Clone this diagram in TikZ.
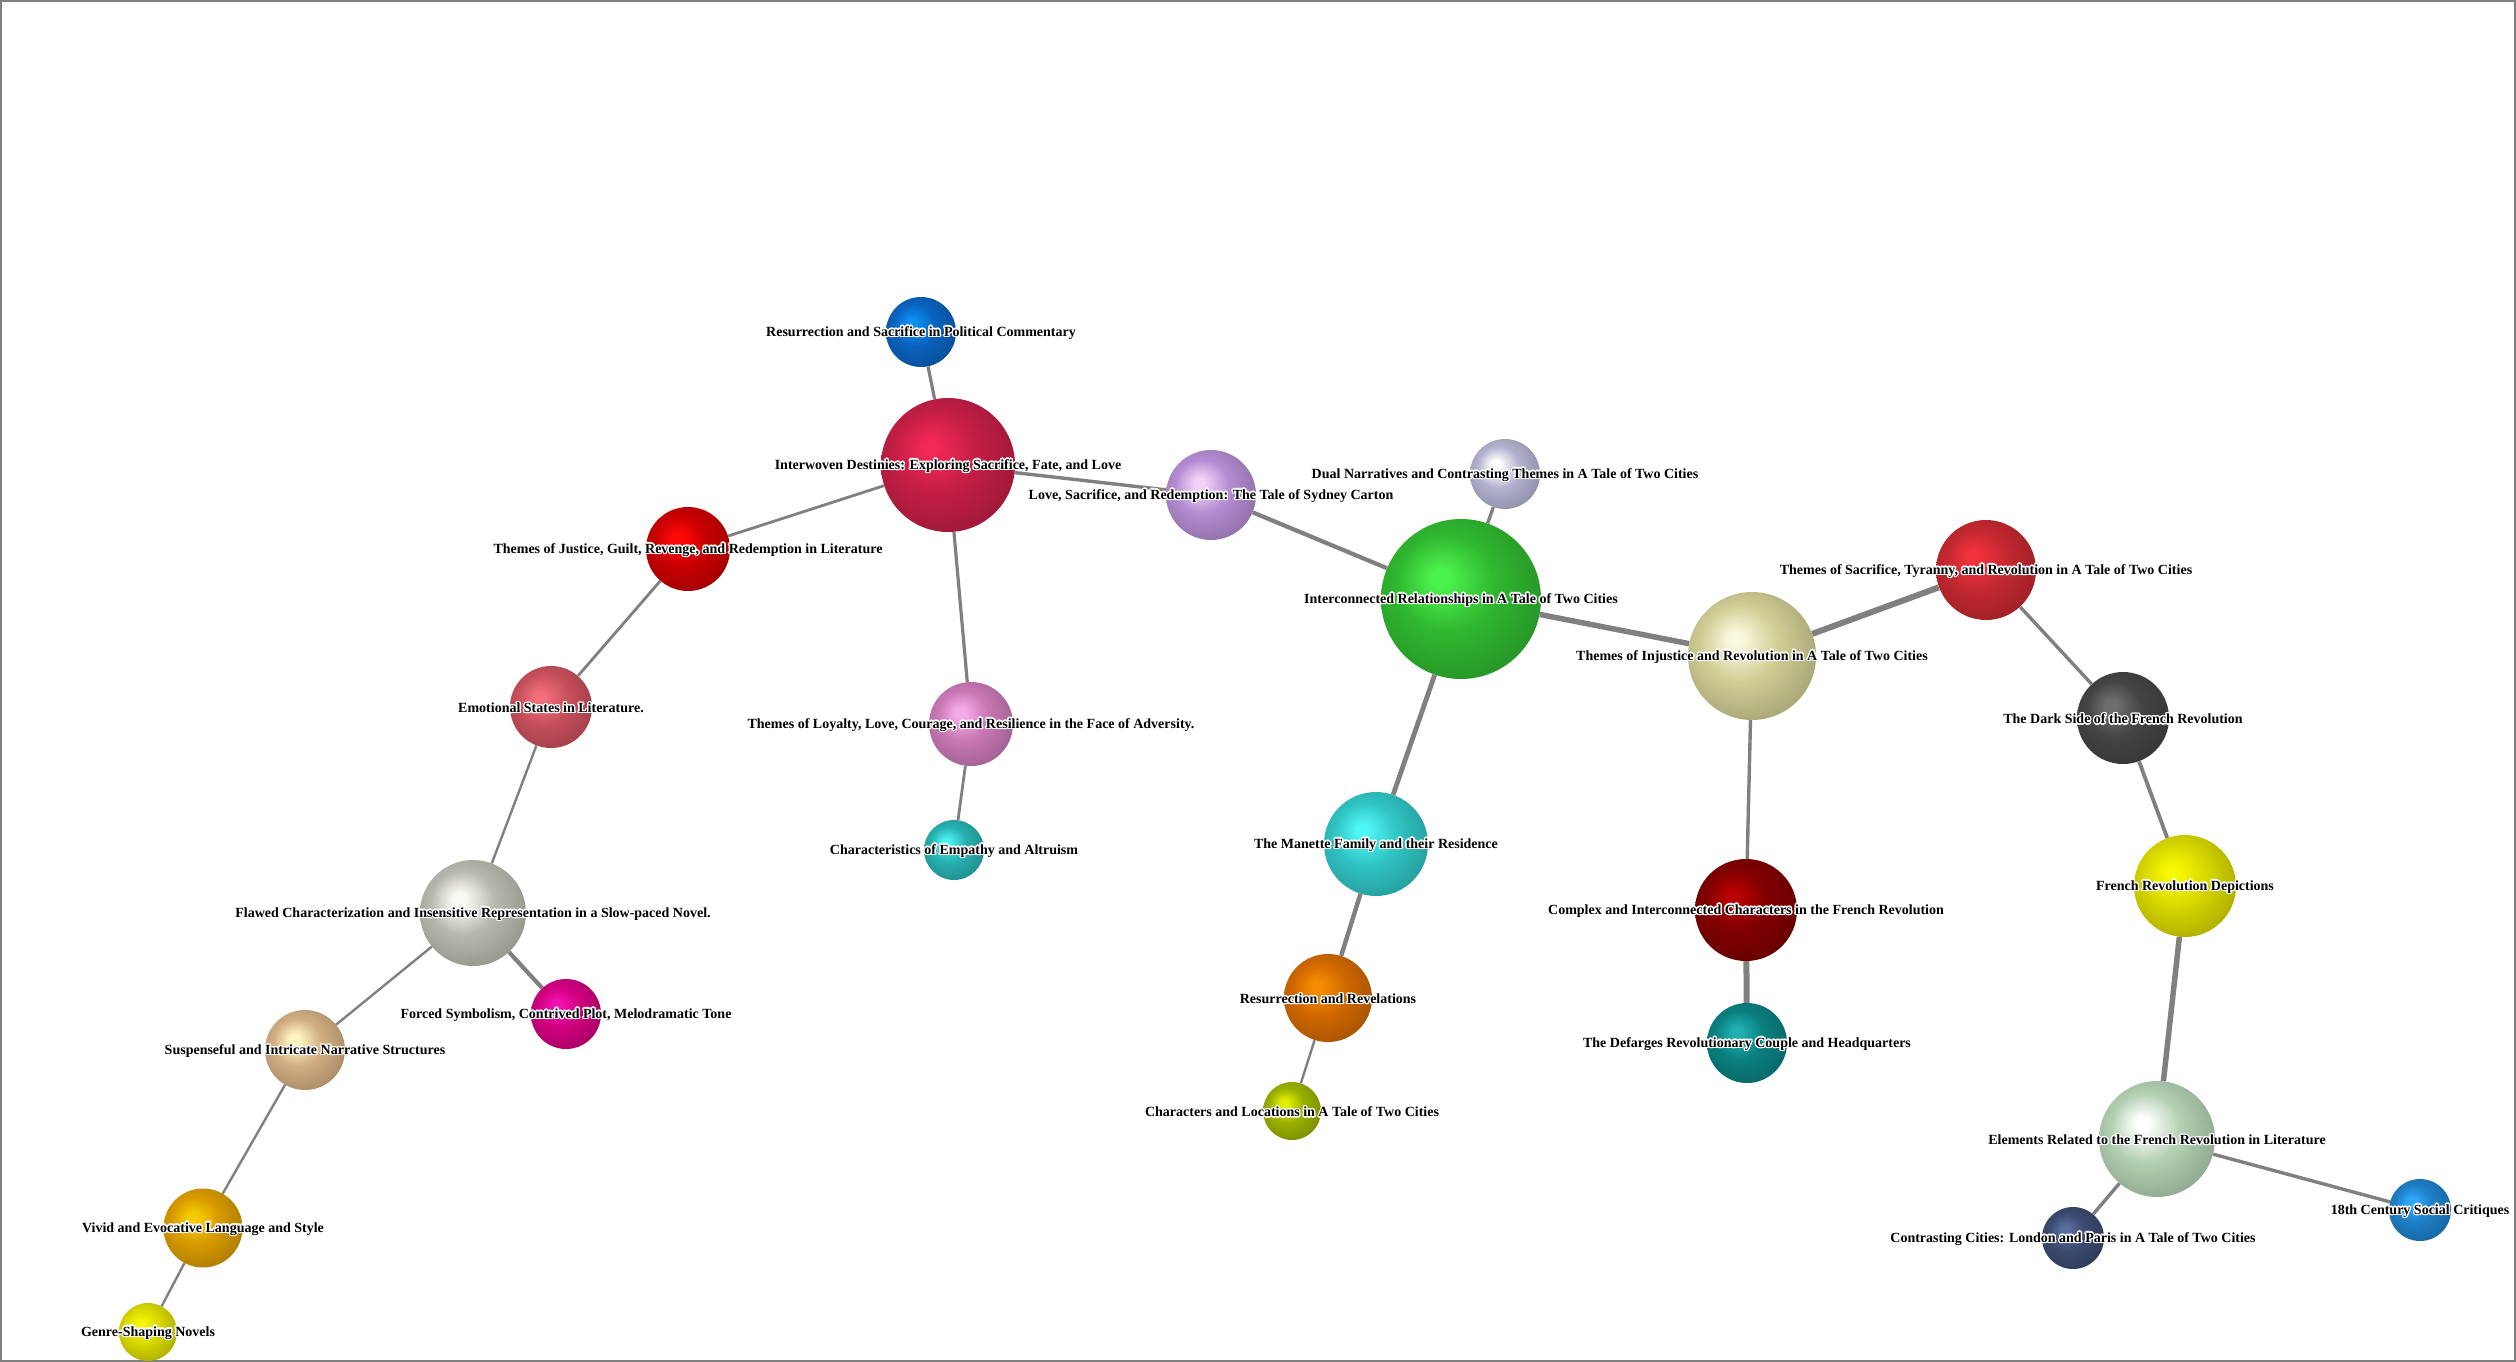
\documentclass[tikz,border=0pt]{standalone}
\usepackage{fontspec}
\setmainfont{Liberation Serif}
\usepackage{contour}
\contourlength{1.3pt}
\usepackage{tikz}
\usetikzlibrary{positioning,calc}

% ball colours: base and highlight
\definecolor{pol}{HTML}{0A62BE}   \definecolor{polhi}{HTML}{0A90F2}
\definecolor{intw}{HTML}{C41E45}  \definecolor{intwhi}{HTML}{F02855}
\definecolor{love}{HTML}{B48CD2}  \definecolor{lovehi}{HTML}{F2D2F8}
\definecolor{dual}{HTML}{B2B2D0}  \definecolor{dualhi}{HTML}{FFFFFF}
\definecolor{inter}{HTML}{30B830} \definecolor{interhi}{HTML}{4CF04C}
\definecolor{just}{HTML}{C80000}  \definecolor{justhi}{HTML}{FF0808}
\definecolor{emo}{HTML}{C8505C}   \definecolor{emohi}{HTML}{F26E7A}
\definecolor{loyal}{HTML}{C878B4} \definecolor{loyalhi}{HTML}{F5AAE8}
\definecolor{emp}{HTML}{28B0B0}   \definecolor{emphi}{HTML}{48F0F0}
\definecolor{flaw}{HTML}{B8B9AE}  \definecolor{flawhi}{HTML}{FAFAF5}
\definecolor{forc}{HTML}{D0007E}  \definecolor{forchi}{HTML}{F010B4}
\definecolor{susp}{HTML}{D2AE82}  \definecolor{susphi}{HTML}{FFF5C0}
\definecolor{vivid}{HTML}{D89A00} \definecolor{vividhi}{HTML}{F5CC00}
\definecolor{genre}{HTML}{D8D800} \definecolor{genrehi}{HTML}{F5F800}
\definecolor{manet}{HTML}{30C4C4} \definecolor{manethi}{HTML}{50F5F5}
\definecolor{resrev}{HTML}{D06800} \definecolor{resrevhi}{HTML}{F58C00}
\definecolor{chloc}{HTML}{9AB000} \definecolor{chlochi}{HTML}{E0F000}
\definecolor{injus}{HTML}{D0CD94} \definecolor{injushi}{HTML}{FAF8DC}
\definecolor{tyran}{HTML}{C42830} \definecolor{tyranhi}{HTML}{F0323C}
\definecolor{dark}{HTML}{444444}  \definecolor{darkhi}{HTML}{6E6E6E}
\definecolor{frdep}{HTML}{D8D800} \definecolor{frdephi}{HTML}{F8F800}
\definecolor{compl}{HTML}{800000} \definecolor{complhi}{HTML}{B80000}
\definecolor{defar}{HTML}{0A8080} \definecolor{defarhi}{HTML}{20B0B0}
\definecolor{elem}{HTML}{B2D0B2}  \definecolor{elemhi}{HTML}{FFFFFF}
\definecolor{contr}{HTML}{3A4A70} \definecolor{contrhi}{HTML}{5A6E9E}
\definecolor{cent}{HTML}{1E7EC6}  \definecolor{centhi}{HTML}{2EA8F8}

\pgfdeclareradialshading[orbhi,orbmid,orbrim]{orb}{\pgfqpoint{-7bp}{7bp}}{%
  color(0bp)=(orbhi); color(3bp)=(orbhi); color(15bp)=(orbmid);
  color(32bp)=(orbrim); color(50bp)=(orbrim)}

\newcommand{\halo}[1]{\contour{white}{#1}}

\begin{document}
\begin{tikzpicture}[x=1pt,y=-1pt]
  \tikzset{orb/.style 2 args={circle,inner sep=0pt,minimum size=#1*2pt,
             /utils/exec={\colorlet{orbhi}{#2hi}\colorlet{orbmid}{#2}\colorlet{orbrim}{#2!78!black}},
             shading=orb},
           link/.style={draw=black!50,line width=#1},
           lbl/.style={font=\bfseries\fontsize{14}{16}\selectfont,inner sep=0pt,yshift=-1.5pt}}
  \useasboundingbox (0,0) rectangle (2516,1362);
  \draw[black!50,line width=2] (1,1) rectangle (2515,1361);
  % balls
  \node[orb={35}{pol}]    (political) at (921,332)  {};
  \node[orb={67}{intw}]   (interwoven) at (948,465) {};
  \node[orb={45}{love}]   (lovesac)   at (1211,495) {};
  \node[orb={35}{dual}]   (dual)      at (1505,474) {};
  \node[orb={80}{inter}]  (interconn) at (1461,599) {};
  \node[orb={42}{just}]   (justice)   at (688,549)  {};
  \node[orb={41}{emo}]    (emotional) at (551,707)  {};
  \node[orb={42}{loyal}]  (loyalty)   at (971,724)  {};
  \node[orb={30}{emp}]    (empathy)   at (954,850)  {};
  \node[orb={53}{flaw}]   (flawed)    at (473,913)  {};
  \node[orb={35}{forc}]   (forced)    at (566,1014) {};
  \node[orb={40}{susp}]   (suspense)  at (305,1050) {};
  \node[orb={39.5}{vivid}] (vivid)    at (203,1228) {};
  \node[orb={29}{genre}]  (genre)     at (148,1332) {};
  \node[orb={52}{manet}]  (manette)   at (1376,844) {};
  \node[orb={44}{resrev}] (resrev)    at (1328,998) {};
  \node[orb={29}{chloc}]  (charloc)   at (1292,1111) {};
  \node[orb={64}{injus}]  (injustice) at (1752,656) {};
  \node[orb={50}{tyran}]  (tyranny)   at (1986,570) {};
  \node[orb={46}{dark}]   (darkside)  at (2123,718) {};
  \node[orb={51}{frdep}]  (frdepict)  at (2185,886) {};
  \node[orb={51}{compl}]  (complex)   at (1746,910) {};
  \node[orb={40}{defar}]  (defarges)  at (1747,1043) {};
  \node[orb={58}{elem}]   (elements)  at (2157,1139) {};
  \node[orb={31}{contr}]  (contrast)  at (2073,1238) {};
  \node[orb={31}{cent}]   (century)   at (2420,1210) {};
  % links
  \draw[link=3.2] (political) -- (interwoven);
  \draw[link=2.8] (interwoven) -- (justice);
  \draw[link=3.4] (interwoven) -- (lovesac);
  \draw[link=3.2] (interwoven) -- (loyalty);
  \draw[link=4.2] (lovesac) -- (interconn);
  \draw[link=3.4] (dual) -- (interconn);
  \draw[link=5.5] (interconn) -- (injustice);
  \draw[link=4.8] (interconn) -- (manette);
  \draw[link=2.8] (justice) -- (emotional);
  \draw[link=2.4] (emotional) -- (flawed);
  \draw[link=2.8] (loyalty) -- (empathy);
  \draw[link=4.2] (flawed) -- (forced);
  \draw[link=2.4] (flawed) -- (suspense);
  \draw[link=2.4] (suspense) -- (vivid);
  \draw[link=2.4] (vivid) -- (genre);
  \draw[link=4.4] (manette) -- (resrev);
  \draw[link=2.4] (resrev) -- (charloc);
  \draw[link=6] (injustice) -- (tyranny);
  \draw[link=3.4] (injustice) -- (complex);
  \draw[link=3.4] (tyranny) -- (darkside);
  \draw[link=3.8] (darkside) -- (frdepict);
  \draw[link=5.5] (frdepict) -- (elements);
  \draw[link=6] (complex) -- (defarges);
  \draw[link=3.4] (elements) -- (contrast);
  \draw[link=3.4] (elements) -- (century);
  % labels
  \node[lbl] (political-t) at (political) {\halo{Resurrection and Sacrifice in Political Commentary}};
  \node[lbl] (interwoven-t) at (interwoven) {\halo{Interwoven Destinies: Exploring Sacrifice, Fate, and Love}};
  \node[lbl] (lovesac-t) at (lovesac) {\halo{Love, Sacrifice, and Redemption: The Tale of Sydney Carton}};
  \node[lbl] (dual-t) at (dual) {\halo{Dual Narratives and Contrasting Themes in A Tale of Two Cities}};
  \node[lbl] (interconn-t) at (interconn) {\halo{Interconnected Relationships in A Tale of Two Cities}};
  \node[lbl] (justice-t) at (justice) {\halo{Themes of Justice, Guilt, Revenge, and Redemption in Literature}};
  \node[lbl] (emotional-t) at (emotional) {\halo{Emotional States in Literature.}};
  \node[lbl] (loyalty-t) at (loyalty) {\halo{Themes of Loyalty, Love, Courage, and Resilience in the Face of Adversity.}};
  \node[lbl] (empathy-t) at (empathy) {\halo{Characteristics of Empathy and Altruism}};
  \node[lbl] (flawed-t) at (flawed) {\halo{Flawed Characterization and Insensitive Representation in a Slow-paced Novel.}};
  \node[lbl] (forced-t) at (forced) {\halo{Forced Symbolism, Contrived Plot, Melodramatic Tone}};
  \node[lbl] (suspense-t) at (suspense) {\halo{Suspenseful and Intricate Narrative Structures}};
  \node[lbl] (vivid-t) at (vivid) {\halo{Vivid and Evocative Language and Style}};
  \node[lbl] (genre-t) at (genre) {\halo{Genre-Shaping Novels}};
  \node[lbl] (manette-t) at (manette) {\halo{The Manette Family and their Residence}};
  \node[lbl] (resrev-t) at (resrev) {\halo{Resurrection and Revelations}};
  \node[lbl] (charloc-t) at (charloc) {\halo{Characters and Locations in A Tale of Two Cities}};
  \node[lbl] (injustice-t) at (injustice) {\halo{Themes of Injustice and Revolution in A Tale of Two Cities}};
  \node[lbl] (tyranny-t) at (tyranny) {\halo{Themes of Sacrifice, Tyranny, and Revolution in A Tale of Two Cities}};
  \node[lbl] (darkside-t) at (darkside) {\halo{The Dark Side of the French Revolution}};
  \node[lbl] (frdepict-t) at (frdepict) {\halo{French Revolution Depictions}};
  \node[lbl] (complex-t) at (complex) {\halo{Complex and Interconnected Characters in the French Revolution}};
  \node[lbl] (defarges-t) at (defarges) {\halo{The Defarges Revolutionary Couple and Headquarters}};
  \node[lbl] (elements-t) at (elements) {\halo{Elements Related to the French Revolution in Literature}};
  \node[lbl] (contrast-t) at (contrast) {\halo{Contrasting Cities: London and Paris in A Tale of Two Cities}};
  \node[lbl] (century-t) at (century) {\halo{18th Century Social Critiques}};
\end{tikzpicture}
\end{document}
